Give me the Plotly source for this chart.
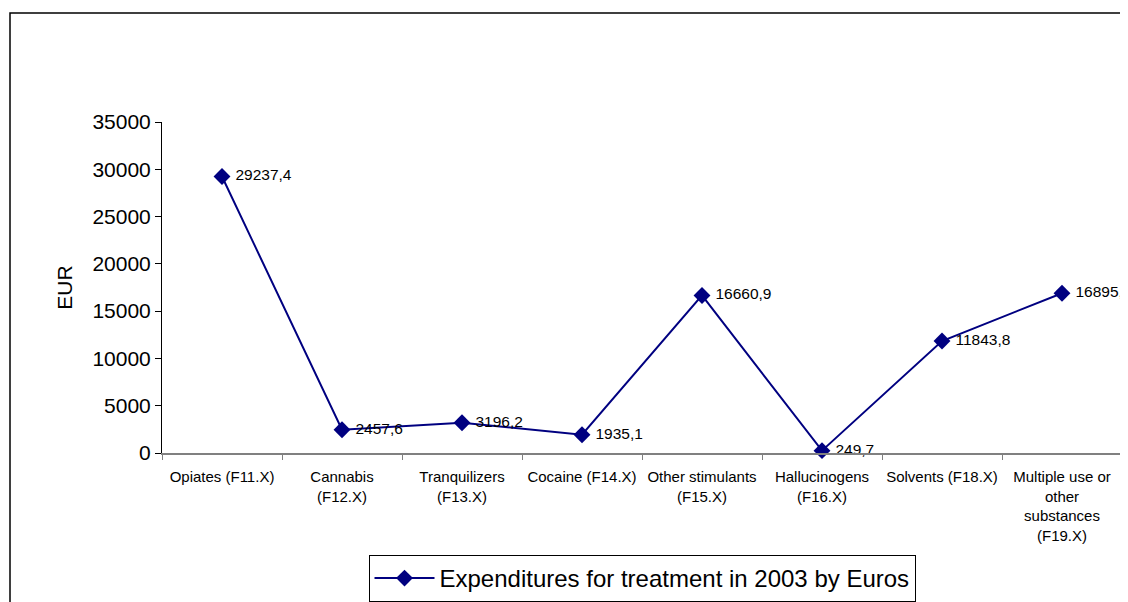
import plotly.graph_objects as go

categories = [
    "Opiates (F11.X)",
    "Cannabis<br>(F12.X)",
    "Tranquilizers<br>(F13.X)",
    "Cocaine (F14.X)",
    "Other stimulants<br>(F15.X)",
    "Hallucinogens<br>(F16.X)",
    "Solvents (F18.X)",
    "Multiple use or<br>other<br>substances<br>(F19.X)",
]
values = [29237.4, 2457.6, 3196.2, 1935.1, 16660.9, 249.7, 11843.8, 16895.3]
value_labels = ["29237,4", "2457,6", "3196,2", "1935,1", "16660,9", "249,7", "11843,8", "16895,3"]
y_ticks = [0, 5000, 10000, 15000, 20000, 25000, 30000, 35000]
series_name = "Expenditures for treatment in 2003 by Euros"

FONT = "Liberation Sans, Arial, sans-serif"
NAVY = "#000080"

fig = go.Figure()
fig.add_trace(go.Scatter(
    x=categories,
    y=values,
    mode="lines+markers+text",
    name=series_name,
    text=["\u00a0" + s for s in value_labels],
    textposition="middle right",
    textfont=dict(family=FONT, size=15.5, color="black"),
    line=dict(color=NAVY, width=2),
    marker=dict(symbol="diamond", size=13, color=NAVY),
    cliponaxis=False,
))

# page has an 8px body margin; the figure is sized to fill the rest
W, H = 1120, 594
L, R, T, B = 154, 6, 114, 149
pw = W - L - R
ph = H - T - B
x_axis_y = T + ph  # fig pixel row of y=0

fig.update_layout(
    width=W, height=H,
    margin=dict(l=L, r=R, t=T, b=B, autoexpand=False),
    paper_bgcolor="white",
    plot_bgcolor="white",
    font=dict(family=FONT, color="black"),
    showlegend=True,
    legend=dict(
        x=0.5, xanchor="center",
        y=(x_axis_y - 547) / ph, yanchor="top",
        orientation="h",
        bordercolor="black", borderwidth=1,
        bgcolor="white",
        font=dict(family=FONT, size=24, color="black"),
        itemwidth=60,
    ),
    xaxis=dict(
        type="category",
        range=[-0.5, len(categories) - 0.5],
        automargin=False,
        tickangle=0,
        showgrid=False,
        showline=True, linecolor="#808080", linewidth=2,
        ticks="outside", ticklen=5, tickcolor="#808080", tickwidth=1,
        tickson="boundaries",
        ticklabelstandoff=9,
        tickfont=dict(family=FONT, size=15, color="black"),
        zeroline=False,
    ),
    yaxis=dict(
        range=[0, 35000],
        automargin=False,
        tickvals=y_ticks,
        ticktext=[str(v) for v in y_ticks],
        showgrid=False,
        showline=True, linecolor="black", linewidth=1,
        ticks="outside", ticklen=6, tickcolor="black",
        tickfont=dict(family=FONT, size=21, color="black"),
        title=dict(text="EUR", font=dict(family=FONT, size=21, color="black"), standoff=14),
        zeroline=False,
    ),
)

# outer chart-area border (clipped at right/bottom as in the reference)
fig.add_shape(
    type="rect", xref="paper", yref="paper",
    x0=(2 - L) / pw, x1=(W + 20 - L) / pw,
    y0=(x_axis_y - (H + 20)) / ph, y1=(x_axis_y - 5) / ph,
    line=dict(color="black", width=1.5),
    layer="below",
)

fig.write_html("out.html")
